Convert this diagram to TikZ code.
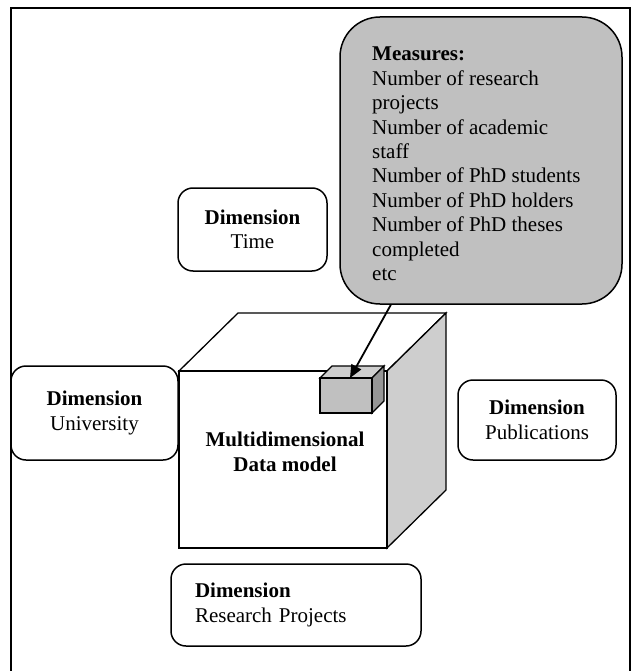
\documentclass[tikz,border=0pt]{standalone}
\usepackage{fontspec}
\setmainfont{Liberation Serif}
\usetikzlibrary{arrows.meta}
\definecolor{boxgrey}{RGB}{192,192,192}
\definecolor{sidegrey}{RGB}{206,206,206}
\definecolor{darkgrey}{RGB}{150,150,150}
\tikzset{
	txt/.style={font=\fontsize{21}{24.4}\selectfont},
	dimbox/.style={txt, draw, line width=1.5pt, rounded corners=15pt, align=center},
	measbox/.style={draw, line width=1.5pt, rounded corners=40pt, fill=boxgrey},
	face/.style={draw, line width=1.3pt, line join=miter}
}

\begin{document}
\begin{tikzpicture}[x=1pt,y=-1pt]
			%%%%% START %%%%%
			\useasboundingbox (0,0) rectangle (633,671);
			\draw[line width=2pt] (11,690) -- (11,8) -- (630,8) -- (630,690);
			
			% measures
			\node[measbox, minimum width=282, minimum height=287] (measures) at (481,160.5) {};
			\node[txt, anchor=north west, align=left, inner sep=0] (meastext) at (372,47)
				{\textbf{Measures:}\\Number of research\\projects\\Number of academic\\staff\\Number of PhD students\\Number of PhD holders\\Number of PhD theses\\completed\\etc};
			
			% dimensions
			\node[dimbox, minimum width=149, minimum height=83] (time) at (252.5,229.5) {\textbf{Dimension}\\Time};
			\node[dimbox, minimum width=167, minimum height=94] (univ) at (94.5,413) {\textbf{Dimension}\\University};
			\node[dimbox, minimum width=158, minimum height=80] (pubs) at (537,420) {\textbf{Dimension}\\Publications};
			\node[dimbox, align=left, text width=202, inner xsep=24, minimum height=82] (projects) at (296,605) {\textbf{Dimension}\\Research Projects};
			
			% big cube
			\draw[face, fill=white] (179,371) -- (238,313) -- (446,313) -- (387,371) -- cycle;
			\draw[face, fill=sidegrey] (387,371) -- (446,313) -- (446,490) -- (387,548) -- cycle;
			\draw[face, fill=white] (179,371) rectangle (387,548);
			\node[txt, font=\fontsize{21}{24.4}\selectfont\bfseries, align=center] (model) at (285,452) {Multidimensional\\Data model};
			
			% small cube
			\draw[face, fill=sidegrey] (320,378) -- (332,366) -- (384,366) -- (372,378) -- cycle;
			\draw[face, fill=darkgrey] (372,378) -- (384,366) -- (384,401) -- (372,413) -- cycle;
			\draw[face, fill=boxgrey] (320,378) rectangle (372,413);
			\coordinate (mtip) at (350,378);
			
			\draw[line width=1.8pt, -{Triangle[length=13pt,width=11pt]}] (measures.238.5) -- (mtip);
			%%%%% END %%%%%
		\end{tikzpicture}
\end{document}
